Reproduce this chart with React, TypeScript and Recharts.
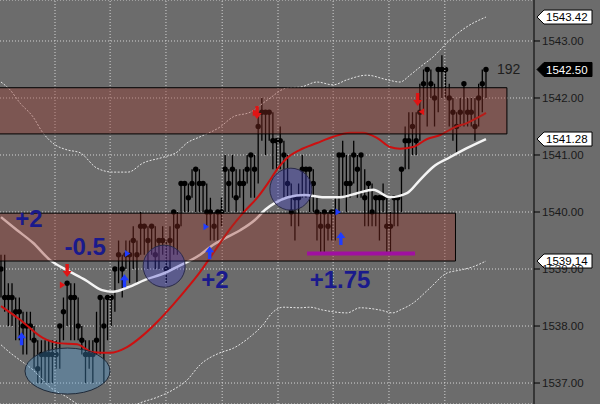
import React from 'react';
import {
  ComposedChart,
  Bar,
  Line,
  XAxis,
  YAxis,
  CartesianGrid,
  ReferenceArea,
  ReferenceLine,
  ReferenceDot,
} from 'recharts';

// bar closes, highs and lows (one per bar, left to right)
const closes = [
  1539.0, 1538.5, 1538.5, 1538.5, 1538.25, 1538.25, 1538.0, 1538.0, 1538.0, 1537.75,
  1537.25, 1537.5, 1537.5, 1537.5, 1537.5, 1537.5, 1538.0, 1538.25, 1538.75, 1538.5,
  1538.5, 1538.0, 1537.75, 1537.5, 1537.5, 1537.5, 1537.75, 1538.5, 1538.0, 1538.5,
  1538.5, 1539.0, 1539.25, 1539.0, 1539.25, 1539.25, 1539.5, 1539.25, 1539.75, 1539.75,
  1539.5, 1539.75, 1539.25, 1539.5, 1539.5, 1539.0, 1539.5, 1540.0, 1539.75, 1540.5,
  1540.5, 1540.25, 1540.5, 1540.75, 1540.5, 1540.5, 1540.0, 1540.0, 1539.75, 1540.0,
  1540.0, 1540.75, 1540.5, 1540.75, 1540.25, 1540.5, 1540.5, 1540.75, 1541.0, 1540.75,
  1541.5, 1541.75, 1541.75, 1541.75, 1541.25, 1541.25, 1541.25, 1541.0, 1540.5, 1540.0,
  1540.25, 1540.25, 1540.75, 1540.75, 1540.75, 1540.5, 1540.0, 1539.75, 1540.0, 1539.75,
  1540.0, 1540.0, 1541.0, 1541.0, 1540.5, 1540.5, 1541.0, 1540.75, 1541.0, 1540.25,
  1540.5, 1540.0, 1540.25, 1540.25, 1540.25, 1539.75, 1539.75, 1540.25, 1540.25, 1540.75,
  1541.25, 1541.25, 1541.5, 1541.25, 1541.75, 1542.25, 1542.5, 1542.25, 1542.0, 1542.5,
  1542.5, 1542.5, 1542.0, 1541.75, 1541.5, 1541.75, 1542.25, 1541.75, 1541.75, 1541.5,
  1542.0, 1542.25, 1542.5,
];

const highs = [
  1539.25, 1539.25, 1538.75, 1538.75, 1538.5, 1538.5, 1538.25, 1538.25, 1538.25, 1538.0,
  1537.75, 1537.75, 1537.75, 1537.75, 1537.75, 1537.75, 1538.0, 1538.5, 1538.75, 1538.75,
  1538.75, 1538.5, 1538.0, 1537.75, 1537.75, 1537.75, 1538.25, 1538.5, 1538.5, 1538.5,
  1538.5, 1539.0, 1539.5, 1539.25, 1539.5, 1539.5, 1539.75, 1539.5, 1540.0, 1539.75,
  1539.75, 1539.75, 1539.75, 1539.5, 1539.75, 1539.5, 1539.75, 1540.0, 1540.0, 1540.5,
  1540.5, 1540.5, 1540.75, 1540.75, 1540.75, 1540.5, 1540.5, 1540.25, 1540.0, 1540.0,
  1540.25, 1541.0, 1540.75, 1541.0, 1540.75, 1540.75, 1540.75, 1541.0, 1541.0, 1541.0,
  1541.75, 1542.0, 1541.75, 1541.75, 1541.75, 1541.25, 1541.5, 1541.25, 1541.0, 1540.5,
  1540.25, 1540.5, 1541.0, 1540.75, 1540.75, 1540.75, 1540.25, 1540.0, 1540.0, 1540.0,
  1540.0, 1540.25, 1541.0, 1541.25, 1541.0, 1541.0, 1541.25, 1541.0, 1541.0, 1540.75,
  1540.5, 1540.5, 1540.25, 1540.25, 1540.5, 1540.25, 1540.0, 1540.25, 1540.25, 1540.75,
  1541.5, 1541.75, 1541.75, 1541.75, 1542.25, 1542.5, 1542.5, 1542.5, 1542.25, 1542.5,
  1542.75, 1542.5, 1542.25, 1542.0, 1541.75, 1542.0, 1542.25, 1542.0, 1542.0, 1542.0,
  1542.25, 1542.5, 1542.5,
];

const lows = [
  1538.5, 1538.25, 1538.0, 1538.0, 1537.75, 1537.75, 1537.5, 1537.5, 1537.75, 1537.25,
  1537.0, 1537.0, 1537.0, 1537.0, 1537.0, 1537.25, 1537.25, 1537.75, 1538.0, 1537.75,
  1537.75, 1537.75, 1537.5, 1537.0, 1537.25, 1537.0, 1537.5, 1537.5, 1537.0, 1537.75,
  1538.0, 1538.25, 1538.75, 1538.5, 1539.0, 1538.75, 1539.0, 1538.75, 1539.25, 1539.25,
  1539.0, 1539.25, 1539.0, 1539.0, 1539.25, 1538.75, 1539.0, 1539.25, 1539.25, 1539.75,
  1540.0, 1540.0, 1540.25, 1540.0, 1540.0, 1540.0, 1539.75, 1539.5, 1539.5, 1539.5,
  1539.75, 1540.0, 1540.0, 1540.25, 1540.0, 1540.25, 1540.0, 1540.5, 1540.25, 1540.25,
  1540.5, 1541.25, 1541.0, 1541.25, 1540.75, 1540.75, 1540.75, 1540.25, 1540.25, 1539.75,
  1539.5, 1539.75, 1540.25, 1540.25, 1540.0, 1540.0, 1539.5, 1539.25, 1539.25, 1539.5,
  1539.5, 1539.5, 1540.0, 1540.25, 1540.0, 1540.25, 1540.5, 1540.25, 1540.25, 1539.75,
  1539.75, 1539.75, 1539.75, 1539.5, 1540.0, 1539.25, 1539.25, 1539.75, 1539.75, 1540.0,
  1540.75, 1540.75, 1541.0, 1541.0, 1541.25, 1541.75, 1541.5, 1542.0, 1541.5, 1541.75,
  1542.0, 1542.0, 1541.5, 1541.25, 1541.0, 1541.5, 1541.5, 1541.5, 1541.5, 1541.25,
  1541.5, 1541.75, 1542.0,
];

// indicator lines: [bar index, price]
const upperBand = [
  [0, 1542.28], [2.5, 1542.14], [5.2, 1541.91], [8.7, 1541.67], [11.4, 1541.39], [14.7, 1541.18],
  [18, 1541.09], [21.5, 1541.04], [26.1, 1540.77], [30.5, 1540.7], [34.6, 1540.7], [38.7, 1540.86],
  [44.1, 1540.96], [47.9, 1541.05], [50.6, 1541.21], [54.2, 1541.32], [59.6, 1541.49], [63.2, 1541.67],
  [67.8, 1541.75], [72.4, 1541.96], [78.1, 1542.18], [81.4, 1542.19], [86, 1542.28], [90.4, 1542.23],
  [94.2, 1542.32], [99.6, 1542.4], [105.1, 1542.32], [108.6, 1542.28], [111.3, 1542.4], [114, 1542.54],
  [117.6, 1542.72], [122.2, 1543.02], [126.8, 1543.25], [132, 1543.42],
];

const lowerBand = [
  [0, 1537.67], [2.5, 1537.53], [5.2, 1537.4], [8.7, 1537.23], [13.3, 1536.93], [18, 1536.75],
  [21.5, 1536.6], [25.6, 1536.49], [29.7, 1536.46], [33.8, 1536.53], [37.8, 1536.65], [42.5, 1536.75],
  [46.8, 1536.88], [50.6, 1537.05], [54.2, 1537.32], [59.6, 1537.53], [63.2, 1537.61], [67.8, 1537.81],
  [71.3, 1538.02], [73.8, 1538.23], [76.8, 1538.33], [81.4, 1538.32], [84.1, 1538.33], [87.6, 1538.28],
  [90.4, 1538.25], [94.2, 1538.23], [97.7, 1538.32], [103.2, 1538.28], [106.7, 1538.23], [108.6, 1538.28],
  [112.1, 1538.4], [116.8, 1538.67], [121.4, 1538.93], [124.9, 1538.98], [128.5, 1539.04], [132, 1539.14],
];

const redMA = [
  [0, 1538.35], [5.2, 1538.11], [11.4, 1537.79], [15.5, 1537.7], [20.7, 1537.68], [25, 1537.54],
  [29.7, 1537.53], [34.3, 1537.63], [38.7, 1537.84], [42.5, 1538.07], [46.8, 1538.37], [51.4, 1538.72],
  [54.2, 1538.95], [58.3, 1539.33], [62.3, 1539.7], [66.4, 1540.02], [70, 1540.27], [72.7, 1540.51],
  [75.4, 1540.77], [78.1, 1540.96], [81.4, 1541.09], [86, 1541.21], [90.4, 1541.32], [95, 1541.39],
  [98.5, 1541.39], [102.3, 1541.3], [105.9, 1541.14], [108.6, 1541.11], [112.1, 1541.14], [116, 1541.28],
  [119.5, 1541.35], [123.6, 1541.49], [126.8, 1541.56], [129.6, 1541.65], [132, 1541.74],
];

const whiteMA = [
  [0, 1539.91], [4.4, 1539.68], [8.7, 1539.46], [13.3, 1539.16], [18, 1538.98], [22.9, 1538.81],
  [27.5, 1538.63], [30.5, 1538.6], [34.6, 1538.68], [39.2, 1538.81], [44.6, 1538.93], [47.4, 1539.02],
  [54.2, 1539.25], [57.7, 1539.42], [61, 1539.54], [65.1, 1539.68], [69.1, 1539.86], [71.9, 1540.04],
  [74.6, 1540.16], [78.1, 1540.26], [82.7, 1540.3], [87.4, 1540.26], [92.3, 1540.26], [96.9, 1540.33],
  [101.3, 1540.39], [105.9, 1540.26], [110.5, 1540.33], [114, 1540.56], [117.6, 1540.79], [122.2, 1540.96],
  [126.8, 1541.12], [132, 1541.28],
];

// annotations
const zones = [
  { from: 1541.37, to: 1542.18, end: 137.7 },
  { from: 1539.14, to: 1539.98, end: 123.7 },
];
const timeLines = [14.7, 29.7, 44.9, 60.2, 75.4, 90.4, 105.6, 120.8];
const priceTicks = [1537, 1538, 1539, 1540, 1541, 1542, 1543];
const circles = [
  { x: 44.4, y: 1539.05 },
  { x: 78.9, y: 1540.4 },
];
const ellipses = [{ x: 18.1, y: 1537.21 }];
const upArrows = [
  { x: 5.6, y: 1537.89 },
  { x: 33.6, y: 1538.91 },
  { x: 56.8, y: 1539.4 },
  { x: 92.5, y: 1539.65 },
];
const downArrows = [
  { x: 18.0, y: 1538.86 },
  { x: 69.7, y: 1541.63 },
  { x: 113.4, y: 1541.86 },
];
const flags = [
  { x: 16.7, y: 1538.72, dir: 1, color: '#e01414' },
  { x: 69.2, y: 1541.74, dir: 1, color: '#e01414' },
  { x: 114.5, y: 1541.76, dir: -1, color: '#e01414' },
  { x: 34.4, y: 1539.27, dir: 1, color: '#1f3cff' },
  { x: 55.8, y: 1539.74, dir: 1, color: '#1f3cff' },
  { x: 91.7, y: 1540.0, dir: 1, color: '#1f3cff' },
];
const notes = [
  { x: 7.6, y: 1539.88, text: '+2' },
  { x: 22.9, y: 1539.4, text: '-0.5' },
  { x: 58.2, y: 1538.81, text: '+2' },
  { x: 92.3, y: 1538.81, text: '+1.75' },
];
const targetLine = { from: 83.3, to: 112.7, price: 1539.27 };
const barCount = { x: 135, y: 1542.51, text: '192' };

const X_MIN = -0.27;
const X_MAX = 145.07;
const Y_MIN = 1536.632;
const Y_MAX = 1543.719;
const W = 600;
const H = 404;
const AXIS_W = 66;
const PX_PER_BAR = (W - AXIS_W) / (X_MAX - X_MIN);
const FONT = '"Liberation Sans", Arial, sans-serif';

const bars = closes.map((c, i) => ({
  x: i,
  range: [lows[i], highs[i]],
  close: c,
  prev: i > 0 ? closes[i - 1] : null,
}));
const toPts = (arr: number[][]) => arr.map(([x, v]) => ({ x, v }));

const BarShape = (props: any) => {
  const { x, y, width, height, payload } = props;
  if (!payload) return null;
  const cx = x + width / 2;
  const [lo, hi] = payload.range;
  const cy = hi === lo ? y : y + ((hi - payload.close) / (hi - lo)) * height;
  return (
    <g>
      {payload.prev === payload.close && (
        <line x1={cx - PX_PER_BAR} x2={cx} y1={cy} y2={cy} stroke="#000" strokeWidth={2.4} />
      )}
      <line x1={cx} x2={cx} y1={y} y2={y + height} stroke="#000" strokeWidth={1.3} />
      <circle cx={cx} cy={cy} r={2.7} fill="#000" />
    </g>
  );
};

const PriceTag = ({ viewBox, text, dark }: any) => {
  const x = viewBox.x + viewBox.width + 3;
  const y = viewBox.y;
  const pts = `${x},${y} ${x + 7},${y - 7} ${x + 55},${y - 7} ${x + 55},${y + 7} ${x + 7},${y + 7}`;
  return (
    <g>
      <polygon points={pts} fill={dark ? '#000' : '#fff'} stroke="#000" strokeWidth={1} />
      <text
        x={x + 9}
        y={y}
        dy="0.36em"
        fontSize={11.5}
        fontFamily={FONT}
        fill={dark ? '#fff' : '#000'}
      >
        {text}
      </text>
    </g>
  );
};

const last = (arr: number[][]) => arr[arr.length - 1][1];
const tags = [
  { value: last(upperBand), dark: false },
  { value: closes[closes.length - 1], dark: true },
  { value: last(whiteMA), dark: false },
  { value: last(lowerBand), dark: false },
];

const lineProps = {
  dataKey: 'v',
  type: 'monotone' as const,
  dot: false,
  activeDot: false,
  isAnimationActive: false,
};

export default function App() {
  return (
    <div style={{ position: 'absolute', left: 0, top: 0, width: W, height: H, background: '#6c6c6c' }}>
      <ComposedChart width={W} height={H} data={bars} margin={{ top: 0, right: 0, bottom: 0, left: 0 }}>
        <CartesianGrid vertical={false} stroke="#d4d4d4" strokeDasharray="1 2" />
        <XAxis dataKey="x" type="number" domain={[X_MIN, X_MAX]} allowDataOverflow hide />
        <YAxis
          orientation="right"
          type="number"
          domain={[Y_MIN, Y_MAX]}
          allowDataOverflow
          ticks={priceTicks}
          tickFormatter={(v: number) => v.toFixed(2)}
          width={AXIS_W}
          axisLine={{ stroke: '#000' }}
          tickLine={{ stroke: '#000' }}
          tickSize={6}
          tick={{ fill: '#1a1a1a', fontSize: 11.5, fontFamily: FONT }}
        />
        {timeLines.map((t) => (
          <ReferenceLine key={'t' + t} x={t} stroke="#d4d4d4" strokeDasharray="1 2" />
        ))}
        <Line {...lineProps} data={toPts(upperBand)} stroke="#e4e4e4" strokeWidth={1} strokeDasharray="2 1.5" />
        <Line {...lineProps} data={toPts(lowerBand)} stroke="#e4e4e4" strokeWidth={1} strokeDasharray="2 1.5" />
        <Line {...lineProps} data={toPts(whiteMA)} stroke="#f4f4f4" strokeWidth={2.5} />
        <Line {...lineProps} data={toPts(redMA)} stroke="#cc1010" strokeWidth={2} />
        <Bar dataKey="range" shape={<BarShape />} isAnimationActive={false} />
        {zones.map((z, i) => (
          <ReferenceArea
            key={'z' + i}
            x1={-3}
            x2={z.end}
            y1={z.from}
            y2={z.to}
            ifOverflow="hidden"
            fill="#963228"
            fillOpacity={0.38}
            stroke="#000"
            strokeWidth={1}
            zIndex={450}
          />
        ))}
        {circles.map((c, i) => (
          <ReferenceDot
            key={'c' + i}
            x={c.x}
            y={c.y}
            zIndex={460}
            shape={(p: any) => (
              <circle cx={p.cx} cy={p.cy} r={21} fill="#3c3cc8" fillOpacity={0.35} stroke="#2a2a4a" strokeWidth={1} />
            )}
          />
        ))}
        {ellipses.map((c, i) => (
          <ReferenceDot
            key={'e' + i}
            x={c.x}
            y={c.y}
            zIndex={460}
            shape={(p: any) => (
              <ellipse cx={p.cx} cy={p.cy} rx={42.5} ry={23} fill="#50a0dc" fillOpacity={0.35} stroke="#1e2a3a" strokeWidth={1} />
            )}
          />
        ))}
        <ReferenceLine
          segment={[
            { x: targetLine.from, y: targetLine.price },
            { x: targetLine.to, y: targetLine.price },
          ]}
          stroke="#a010a0"
          strokeWidth={4}
          zIndex={470}
        />
        {upArrows.map((a, i) => (
          <ReferenceDot
            key={'u' + i}
            x={a.x}
            y={a.y}
            zIndex={480}
            shape={(p: any) => (
              <polygon
                points={`${p.cx},${p.cy} ${p.cx + 4.5},${p.cy + 6} ${p.cx + 1.7},${p.cy + 6} ${p.cx + 1.7},${p.cy + 13} ${p.cx - 1.7},${p.cy + 13} ${p.cx - 1.7},${p.cy + 6} ${p.cx - 4.5},${p.cy + 6}`}
                fill="#1f3cff"
              />
            )}
          />
        ))}
        {downArrows.map((a, i) => (
          <ReferenceDot
            key={'d' + i}
            x={a.x}
            y={a.y}
            zIndex={480}
            shape={(p: any) => (
              <polygon
                points={`${p.cx},${p.cy} ${p.cx + 4.5},${p.cy - 6} ${p.cx + 1.7},${p.cy - 6} ${p.cx + 1.7},${p.cy - 13} ${p.cx - 1.7},${p.cy - 13} ${p.cx - 1.7},${p.cy - 6} ${p.cx - 4.5},${p.cy - 6}`}
                fill="#e01414"
              />
            )}
          />
        ))}
        {flags.map((f, i) => (
          <ReferenceDot
            key={'f' + i}
            x={f.x}
            y={f.y}
            zIndex={480}
            shape={(p: any) => (
              <polygon
                points={`${p.cx + 3 * f.dir},${p.cy} ${p.cx - 2.5 * f.dir},${p.cy - 3.5} ${p.cx - 2.5 * f.dir},${p.cy + 3.5}`}
                fill={f.color}
              />
            )}
          />
        ))}
        {notes.map((n, i) => (
          <ReferenceDot
            key={'n' + i}
            x={n.x}
            y={n.y}
            zIndex={490}
            shape={(p: any) => (
              <text
                x={p.cx}
                y={p.cy}
                dy="0.36em"
                textAnchor="middle"
                fontSize={24}
                fontWeight="bold"
                fontFamily={FONT}
                fill="#1a1a8c"
              >
                {n.text}
              </text>
            )}
          />
        ))}
        <ReferenceDot
          x={barCount.x}
          y={barCount.y}
          zIndex={490}
          shape={(p: any) => (
            <text x={p.cx} y={p.cy} dy="0.36em" fontSize={14} fontFamily={FONT} fill="#1e1e1e">
              {barCount.text}
            </text>
          )}
        />
        {tags.map((t, i) => (
          <ReferenceLine
            key={'g' + i}
            y={t.value}
            stroke="none"
            label={(p: any) => <PriceTag viewBox={p.viewBox} text={t.value.toFixed(2)} dark={t.dark} />}
          />
        ))}
      </ComposedChart>
    </div>
  );
}
